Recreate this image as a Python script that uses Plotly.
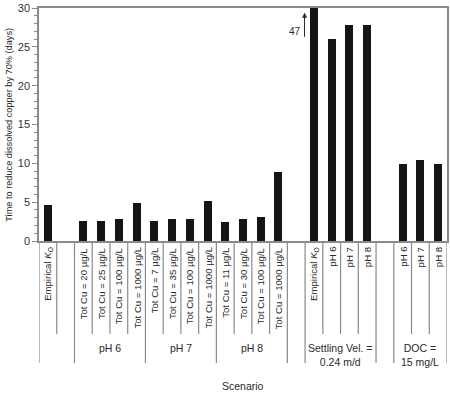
import plotly.graph_objects as go

# ---- data ----
categories = [
    "Empirical <i>K</i><sub>O</sub>", "",
    "Tot Cu = 20 µg/L", "Tot Cu = 25 µg/L", "Tot Cu = 100 µg/L", "Tot Cu = 1000 µg/L",
    "Tot Cu = 7 µg/L", "Tot Cu = 35 µg/L", "Tot Cu = 100 µg/L", "Tot Cu = 1000 µg/L",
    "Tot Cu = 11 µg/L", "Tot Cu = 30 µg/L", "Tot Cu = 100 µg/L", "Tot Cu = 1000 µg/L",
    "",
    "Empirical <i>K</i><sub>O</sub>", "pH 6", "pH 7", "pH 8",
    "",
    "pH 6", "pH 7", "pH 8",
]
values = [4.7, None,
          2.6, 2.6, 2.8, 4.9,
          2.6, 2.8, 2.8, 5.1,
          2.5, 2.8, 3.1, 8.9,
          None,
          47, 26.0, 27.8, 27.8,
          None,
          9.9, 10.4, 9.9]
group_labels = ["pH 6", "pH 7", "pH 8", "Settling Vel. =<br>0.24 m/d", "DOC =<br>15 mg/L"]
group_centers = [3.5, 7.5, 11.5, 16.5, 21.0]
short_bounds = [0.5, 2.5, 3.5, 4.5, 6.5, 7.5, 8.5, 10.5, 11.5, 12.5, 15.5, 16.5, 17.5, 20.5, 21.5]
long_bounds = [-0.5, 1.5, 5.5, 9.5, 13.5, 14.5, 18.5, 19.5, 22.5]
clipped_label = "47"
y_ticks = [0, 5, 10, 15, 20, 25, 30]

W, H = 450, 401
L, R, T, B = 39, 1, 8, 160
ph = H - T - B

def py(Y):
    return (T + ph - Y) / ph

xs = list(range(len(categories)))
font = "Liberation Sans, Arial, sans-serif"
gray = "#8a8a8a"
txt = "#2a2a2a"

fig = go.Figure()
fig.add_trace(go.Bar(x=xs, y=values, width=0.45,
                     marker=dict(color="#151515", line=dict(width=0)),
                     hoverinfo="skip"))

shapes = []
for b in short_bounds:
    shapes.append(dict(type="line", xref="x", yref="paper", x0=b, x1=b,
                       y0=0, y1=py(334), line=dict(color=gray, width=1.2)))
for b in long_bounds:
    shapes.append(dict(type="line", xref="x", yref="paper", x0=b, x1=b,
                       y0=0, y1=py(363), line=dict(color=gray, width=1.2)))

ann = []
for x, c in zip(xs, categories):
    if c:
        ann.append(dict(x=x, y=py(245), xref="x", yref="paper", text=c,
                        textangle=-90, xanchor="center", yanchor="top",
                        showarrow=False, font=dict(size=9.6, color=txt, family=font)))
for x, g in zip(group_centers, group_labels):
    ann.append(dict(x=x, y=py(340), xref="x", yref="paper", text=g,
                    xanchor="center", yanchor="top", showarrow=False,
                    font=dict(size=10.5, color=txt, family=font)))
ann.append(dict(x=0.5, y=py(386), xref="paper", yref="paper", text="Scenario",
                xanchor="center", yanchor="middle", showarrow=False,
                font=dict(size=10.5, color=txt, family=font)))
ann.append(dict(x=(8 - L) / (W - L - R), y=0.5, xref="paper", yref="paper",
                text="Time to reduce dissolved copper by 70% (days)", textangle=-90,
                xanchor="center", yanchor="middle", showarrow=False,
                font=dict(size=9.2, color=txt, family=font)))
# arrow for clipped bar
ann.append(dict(x=14.47, y=29.4, ax=14.47, ay=26.1, xref="x", yref="y",
                axref="x", ayref="y", text="", showarrow=True,
                arrowhead=2, arrowsize=1, arrowwidth=1, arrowcolor="#222"))
ann.append(dict(x=13.95, y=27.0, xref="x", yref="y", text=clipped_label,
                showarrow=False, xanchor="center", yanchor="middle",
                font=dict(size=10, color=txt, family=font)))

fig.update_layout(
    width=W, height=H, margin=dict(l=L, r=R, t=T, b=B),
    paper_bgcolor="white", plot_bgcolor="white", showlegend=False,
    shapes=shapes, annotations=ann, bargap=0,
    xaxis=dict(range=[-0.5, 22.5], showticklabels=False, ticks="",
               showgrid=False, zeroline=False, showline=True, mirror=True,
               linecolor=gray, linewidth=1.5, fixedrange=True),
    yaxis=dict(range=[0, 30], tickvals=y_ticks, ticks="outside", ticklen=5,
               tickcolor=gray, tickwidth=1, showgrid=False, zeroline=False,
               showline=True, mirror=True, linecolor=gray, linewidth=1.5,
               tickfont=dict(size=11, color="#333", family=font),
               minor=dict(dtick=1, ticks="outside", ticklen=3, tickcolor=gray),
               fixedrange=True),
)

fig.write_html("out.html", config={"displayModeBar": False},
               post_script="document.body.style.margin='0';document.body.style.overflow='hidden';")
